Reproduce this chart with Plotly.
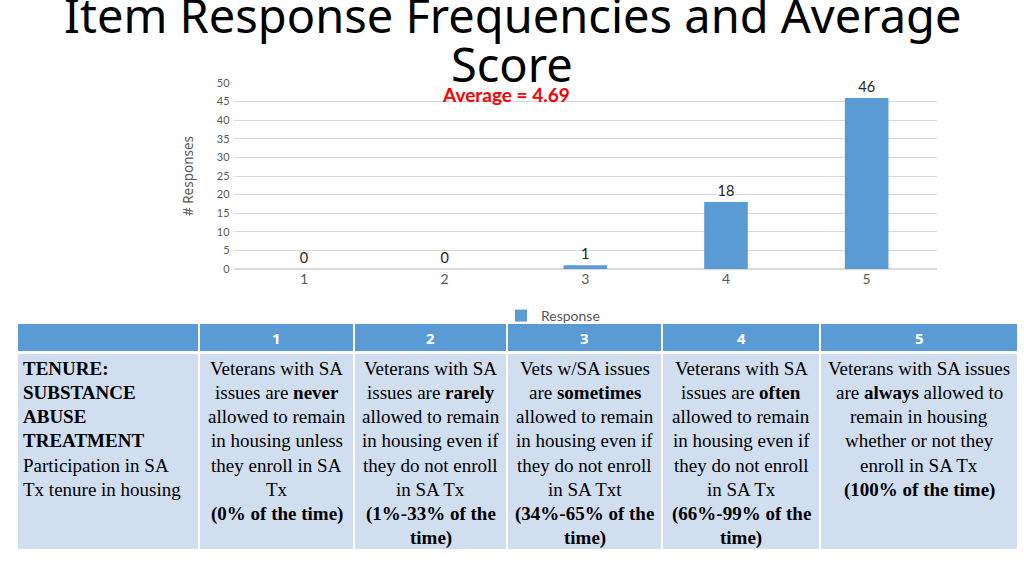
import plotly.graph_objects as go

# chart data
responses = [1, 2, 3, 4, 5]
counts = [0, 0, 1, 18, 46]
y_ticks = [0, 5, 10, 15, 20, 25, 30, 35, 40, 45, 50]

# table data
header_labels = ["", "1", "2", "3", "4", "5"]
col_edges = [17, 199, 354, 507, 662, 820, 1018]
row_label_lines = [
    "<b>TENURE:</b>",
    "<b>SUBSTANCE</b>",
    "<b>ABUSE</b>",
    "<b>TREATMENT</b>",
    "Participation in SA",
    "Tx tenure in housing",
]
cell_lines = [
    ["Veterans with SA", "issues are <b>never</b>", "allowed to remain",
     "in housing unless", "they enroll in SA", "Tx", "<b>(0% of the time)</b>"],
    ["Veterans with SA", "issues are <b>rarely</b>", "allowed to remain",
     "in housing even if", "they do not enroll", "in SA Tx",
     "<b>(1%-33% of the</b>", "<b>time)</b>"],
    ["Vets w/SA issues", "are <b>sometimes</b>", "allowed to remain",
     "in housing even if", "they do not enroll", "in SA Txt",
     "<b>(34%-65% of the</b>", "<b>time)</b>"],
    ["Veterans with SA", "issues are <b>often</b>", "allowed to remain",
     "in housing even if", "they do not enroll", "in SA Tx",
     "<b>(66%-99% of the</b>", "<b>time)</b>"],
    ["Veterans with SA issues", "are <b>always</b> allowed to", "remain in housing",
     "whether or not they", "enroll in SA Tx", "<b>(100% of the time)</b>"],
]

W, H = 1024, 575
BLUE = "#5B9BD5"
LIGHT = "#D0DEEF"
GREY = "#595959"


def px(x):
    return x / W


def py(y):
    return 1 - y / H


average = sum(r * c for r, c in zip(responses, counts)) / sum(counts)

fig = go.Figure()

fig.add_trace(
    go.Bar(
        x=responses,
        y=counts,
        name="Response",
        marker=dict(color=BLUE, line=dict(width=0)),
        text=[str(c) for c in counts],
        textposition="outside",
        textfont=dict(family="Lato", size=14.5, color="#262626"),
        cliponaxis=False,
    )
)

fig.update_xaxes(
    domain=[px(233.6), px(937)],
    range=[0.5, 5.5],
    tickvals=responses,
    ticktext=[str(r) for r in responses],
    tickfont=dict(family="Lato", size=14, color=GREY),
    showgrid=False,
    zeroline=False,
    showline=False,
    ticks="",
    automargin=False,
)
fig.update_yaxes(
    domain=[py(269), py(83)],
    range=[0, 50],
    tickvals=y_ticks,
    tickfont=dict(family="Lato", size=11, color=GREY),
    ticklabelstandoff=3,
    showgrid=True,
    gridcolor="#D9D9D9",
    gridwidth=1,
    zeroline=True,
    zerolinecolor="#D9D9D9",
    ticks="",
    automargin=False,
    title=dict(text="# Responses", font=dict(family="Noto Sans", size=13.5, color=GREY), standoff=20),
)

annotations = []

# slide title (two lines)
title_font = dict(family="Noto Sans", size=47, color="black")
annotations.append(dict(text="Item Response Frequencies and Average", x=px(512), y=py(15),
                        xref="paper", yref="paper", showarrow=False, xanchor="center", yanchor="middle",
                        font=title_font))
annotations.append(dict(text="Score", x=px(512), y=py(64),
                        xref="paper", yref="paper", showarrow=False, xanchor="center", yanchor="middle",
                        font=title_font))

# average label
annotations.append(dict(text="<b>Average = %.2f</b>" % average, x=px(506), y=py(95),
                        xref="paper", yref="paper", showarrow=False, xanchor="center", yanchor="middle",
                        font=dict(family="Lato", size=19, color="#FF0000")))

shapes = []
header_top, header_bot, body_bot = 323, 352, 550
for i in range(len(col_edges) - 1):
    x0, x1 = col_edges[i], col_edges[i + 1]
    shapes.append(dict(type="rect", xref="paper", yref="paper", x0=px(x0), x1=px(x1),
                       y0=py(header_bot), y1=py(header_top), fillcolor=BLUE,
                       line=dict(color="white", width=2), layer="below"))
    shapes.append(dict(type="rect", xref="paper", yref="paper", x0=px(x0), x1=px(x1),
                       y0=py(body_bot), y1=py(header_bot + 1), fillcolor=LIGHT,
                       line=dict(color="white", width=2), layer="below"))
    annotations.append(dict(text="<b>%s</b>" % header_labels[i] if header_labels[i] else "",
                            x=px((x0 + x1) / 2), y=py(338), xref="paper", yref="paper",
                            showarrow=False, xanchor="center", yanchor="middle",
                            font=dict(family="Noto Sans", size=15, color="white")))

line_y0, line_step = 368, 24.3
body_font = dict(family="Liberation Serif", size=19, color="black")
for j, line in enumerate(row_label_lines):
    annotations.append(dict(text=line, x=px(21), y=py(line_y0 + j * line_step),
                            xref="paper", yref="paper", showarrow=False,
                            xanchor="left", yanchor="middle", font=body_font))
for i, lines in enumerate(cell_lines):
    xc = (col_edges[i + 1] + col_edges[i + 2]) / 2
    for j, line in enumerate(lines):
        annotations.append(dict(text=line, x=px(xc), y=py(line_y0 + j * line_step),
                                xref="paper", yref="paper", showarrow=False,
                                xanchor="center", yanchor="middle", font=body_font))

fig.update_layout(
    width=W,
    height=H,
    margin=dict(l=0, r=0, t=0, b=0, pad=0),
    paper_bgcolor="white",
    plot_bgcolor="white",
    bargap=0.69,
    showlegend=True,
    legend=dict(orientation="h", x=px(553), y=py(316), xanchor="center", yanchor="middle",
                font=dict(family="Lato", size=14, color=GREY), bgcolor="rgba(0,0,0,0)"),
    shapes=shapes,
    annotations=annotations,
)

# the page body has a default 8px margin; remove it so the figure sits at 0,0
fig.write_html("out.html", config={"displayModeBar": False},
               post_script="document.body.style.margin = '0';")
